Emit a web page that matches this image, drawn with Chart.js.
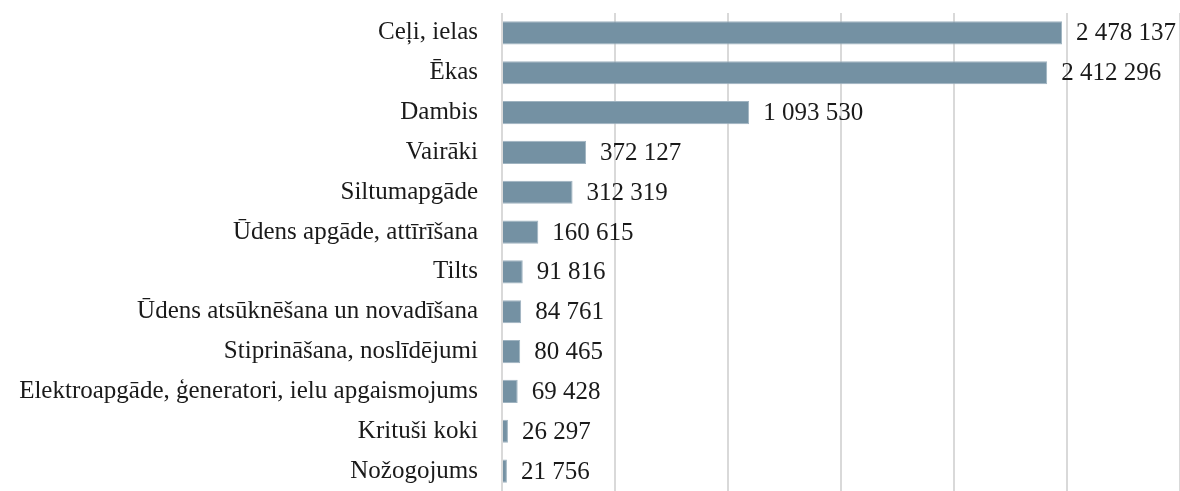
<!DOCTYPE html>
<html>
<head>
<meta charset="utf-8">
<script src="https://cdn.jsdelivr.net/npm/chart.js@4/dist/chart.umd.min.js"></script>
<style>
  html, body { margin: 0; padding: 0; background: #fff; }
  #wrap { width: 1180px; height: 491px; }
</style>
</head>
<body>
<div id="wrap"><canvas id="chart"></canvas></div>
<script>
const categories = [
  'Ceļi, ielas',
  'Ēkas',
  'Dambis',
  'Vairāki',
  'Siltumapgāde',
  'Ūdens apgāde, attīrīšana',
  'Tilts',
  'Ūdens atsūknēšana un novadīšana',
  'Stiprināšana, noslīdējumi',
  'Elektroapgāde, ģeneratori, ielu apgaismojums',
  'Krituši koki',
  'Nožogojums'
]
const values = [2478137, 2412296, 1093530, 372127, 312319, 160615, 91816, 84761, 80465, 69428, 26297, 21756]
const xMax = 3000000

const fmt = v => String(v).replace(/\B(?=(\d{3})+(?!\d))/g, ' ')

const valueLabels = {
  id: 'valueLabels',
  afterDatasetsDraw(chart) {
    const ctx = chart.ctx
    const meta = chart.getDatasetMeta(0)
    ctx.save()
    ctx.font = '25px "Liberation Serif", serif'
    ctx.fillStyle = '#1a1a1a'
    ctx.textBaseline = 'middle'
    meta.data.forEach((bar, i) => {
      ctx.fillText(fmt(values[i]), bar.x + 14, bar.y + 1)
    })
    ctx.restore()
  }
}

new Chart(document.querySelector('#chart'), {
  type: 'bar',
  data: {
    labels: categories,
    datasets: [{
      data: values,
      backgroundColor: '#7491a3',
      borderColor: '#9fb3c0',
      borderWidth: 1,
      barPercentage: 0.58,
      categoryPercentage: 1
    }]
  },
  options: {
    indexAxis: 'y',
    responsive: true,
    maintainAspectRatio: false,
    animation: false,
    layout: { padding: { top: 13, left: 10, right: 0, bottom: 0 } },
    plugins: {
      legend: { display: false },
      tooltip: { enabled: false }
    },
    scales: {
      x: {
        min: 0,
        max: xMax,
        ticks: { display: false, stepSize: 500000 },
        grid: { color: '#d9d9d9', lineWidth: 2, drawTicks: false },
        border: { display: false }
      },
      y: {
        afterFit: scale => {
          scale.width = 492
          scale.paddingTop = 0
          scale.paddingBottom = 0
        },
        ticks: {
          color: '#1a1a1a',
          padding: 24,
          font: { family: '"Liberation Serif", serif', size: 25 }
        },
        grid: { display: false, drawTicks: false },
        border: { display: false }
      }
    }
  },
  plugins: [valueLabels]
})
</script>
</body>
</html>
